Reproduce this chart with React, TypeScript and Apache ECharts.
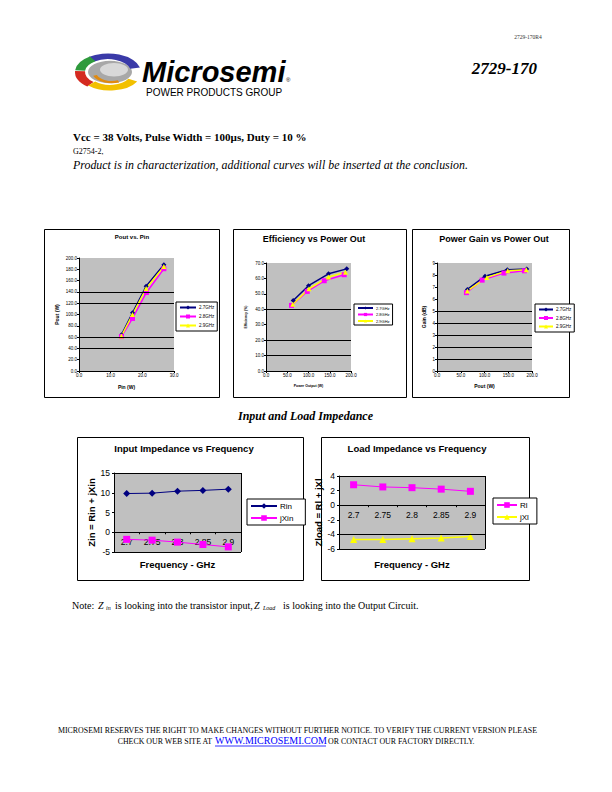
import React, { useEffect, useRef } from "react";
import * as echarts from "echarts";

// ---------- data ----------
const freqNames = ["2.7GHz", "2.8GHz", "2.9GHz"];
// Pout vs Pin  [Pin (W), Pout (W)]
const poutPin27 = [[13.4, 64], [16.9, 103], [21.2, 150], [26.8, 188]];
const poutPin28 = [[13.4, 61], [16.9, 93], [21.3, 139], [26.8, 181]];
const poutPin29 = [[13.4, 62], [16.9, 100], [21.2, 146], [26.8, 185]];
// Efficiency vs Pout [Pout (W), Eff (%)]
const eff27 = [[64, 45.7], [100, 55.3], [147, 63], [190, 66.2]];
const eff28 = [[60, 42.5], [97, 51.6], [137, 58.5], [184, 62.4]];
const eff29 = [[63, 43.3], [101, 53.3], [147, 60.9], [187, 64]];
// Gain vs Pout [Pout (W), Gain (dB)]
const gain27 = [[64, 6.8], [101, 7.9], [148, 8.44], [189, 8.5]];
const gain28 = [[62, 6.53], [95, 7.57], [141, 8.16], [184, 8.35]];
const gain29 = [[64, 6.67], [105, 7.8], [149, 8.35], [188, 8.44]];
// Impedances
const freqCategories = ["2.7", "2.75", "2.8", "2.85", "2.9"];
const rin = [9.8, 9.9, 10.4, 10.6, 10.9];
const jxin = [-1.8, -2.0, -2.5, -3.1, -3.7];
const rl = [2.8, 2.5, 2.4, 2.2, 1.9];
const jxl = [-4.7, -4.7, -4.6, -4.5, -4.3];
// visible horizontal gridlines
const poutGridLines = [40, 60, 120, 140];
const effGridLines = [10, 20, 40];
const gainGridLines = [1, 2, 3, 4, 5];
const zinGridLines = [15, 0, -5];
const zloadGridLines = [4, 0, -4, -6];

const SANS = "'Liberation Sans', Arial, sans-serif";
const SERIF = "'Liberation Serif', 'Times New Roman', serif";
const NAVY = "#000080";
const MAGENTA = "#ff00ff";
const YELLOW = "#ffff00";

function valueAxis(gridIndex: number, min: number, max: number, interval: number, digits: number, fontSize: number, name: string, nameGap: number, nameSize: number, rotateName: boolean) {
  return {
    type: "value",
    gridIndex,
    min,
    max,
    interval,
    name,
    nameLocation: "middle",
    nameGap,
    nameRotate: rotateName ? 90 : 0,
    nameTextStyle: { fontSize: nameSize, fontWeight: "bold", fontFamily: SANS, color: "#000" },
    axisLine: { show: true, onZero: false, lineStyle: { color: "#000", width: 1 } },
    axisTick: { show: true, length: 2, lineStyle: { color: "#000" } },
    axisLabel: { fontSize, fontFamily: SANS, color: "#000", margin: 2, formatter: (v: number) => v.toFixed(digits) },
    splitLine: { show: false },
  };
}

function gridLineSeries(xi: number, values: number[]) {
  return {
    type: "line",
    xAxisIndex: xi,
    yAxisIndex: xi,
    data: [],
    silent: true,
    z: 1,
    markLine: {
      silent: true,
      symbol: ["none", "none"],
      label: { show: false },
      lineStyle: { color: "#000", width: 1, type: "solid" },
      emphasis: { disabled: true },
      data: values.map((v) => ({ yAxis: v })),
    },
  };
}

function lineSeries(name: string, xi: number, data: any[], color: string, symbol: string, size: number, width: number) {
  return {
    type: "line",
    name,
    xAxisIndex: xi,
    yAxisIndex: xi,
    data,
    symbol,
    symbolSize: size,
    z: 3,
    lineStyle: { color, width },
    itemStyle: { color },
  };
}

function smallLegend(left: number, top: number, data: string[], fontSize: number, itemWidth: number, itemHeight: number, itemGap: number, padding: number[]) {
  return {
    left,
    top,
    orient: "vertical",
    data,
    selectedMode: false,
    backgroundColor: "#fff",
    borderColor: "#000",
    borderWidth: 1,
    borderRadius: 0,
    padding,
    itemGap,
    itemWidth,
    itemHeight,
    textStyle: { fontSize, fontFamily: SANS, color: "#000", padding: [0, 0, 0, -2] },
  };
}

function txt(text: string, x: number, y: number, fontSize: number, opts: any = {}) {
  return {
    type: "text",
    x,
    y,
    z: 10,
    style: {
      text,
      fontSize,
      fontFamily: opts.family || SERIF,
      fontWeight: opts.weight || "normal",
      fontStyle: opts.style || "normal",
      fill: opts.fill || "#000",
      textAlign: opts.align || "left",
      textVerticalAlign: "middle",
    },
  };
}

function frame(x: number, y: number, w: number, h: number) {
  return {
    type: "rect",
    z: -10,
    shape: { x: x + 0.5, y: y + 0.5, width: w, height: h },
    style: { fill: "#fff", stroke: "#000", lineWidth: 1 },
  };
}

function buildOption() {
  // category axis is lifted from the plot bottom to the zero line via offset
  const catAxis = (gridIndex: number, splitIdx: number, nameGap: number, offset: number) => ({
    type: "category",
    gridIndex,
    data: freqCategories,
    position: "bottom",
    offset,
    name: "Frequency - GHz",
    nameLocation: "middle",
    nameGap,
    nameTextStyle: { fontSize: 9.5, fontWeight: "bold", fontFamily: SANS, color: "#000" },
    axisLine: { show: true, onZero: false, lineStyle: { color: "#000", width: 1 } },
    axisTick: { show: true, length: 2, lineStyle: { color: "#000" } },
    axisLabel: { fontSize: 8.5, fontFamily: SANS, color: "#000", margin: 5 },
    splitLine: { show: true, interval: (i: number) => i === splitIdx, lineStyle: { color: "#000", width: 1 } },
  });
  const zAxis = (gridIndex: number, min: number, max: number, interval: number, name: string, nameGap: number) => ({
    type: "value",
    gridIndex,
    min,
    max,
    interval,
    name,
    nameLocation: "middle",
    nameGap,
    nameRotate: 90,
    nameTextStyle: { fontSize: 9.5, fontWeight: "bold", fontFamily: SANS, color: "#000" },
    axisLine: { show: true, onZero: false, lineStyle: { color: "#000", width: 1 } },
    axisTick: { show: true, length: 2, lineStyle: { color: "#000" } },
    axisLabel: { fontSize: 8.5, fontFamily: SANS, color: "#000", margin: 4 },
    splitLine: { show: false },
  });

  const gridBase = { show: true, backgroundColor: "#c0c0c0", borderWidth: 0, containLabel: false };

  const logo = {
    type: "group",
    x: 108,
    y: 72,
    scaleY: 0.56,
    z: 5,
    children: [
      { type: "ellipse", shape: { cx: 2, cy: 0, rx: 22, ry: 20 }, style: { fill: "#a8a8a8" } },
      { type: "ellipse", shape: { cx: 6, cy: -4, rx: 14, ry: 12 }, style: { fill: "#d8d8d8" } },
      { type: "arc", shape: { cx: 0, cy: 0, r: 28, startAngle: -2.2, endAngle: -0.25 }, style: { stroke: "#3a3aa8", lineWidth: 10, fill: "none" } },
      { type: "arc", shape: { cx: 0, cy: 0, r: 28, startAngle: -3.05, endAngle: -2.15 }, style: { stroke: "#2e9a3c", lineWidth: 10, fill: "none" } },
      { type: "arc", shape: { cx: 0, cy: 0, r: 28, startAngle: 2.25, endAngle: 3.2 }, style: { stroke: "#d42a20", lineWidth: 10, fill: "none" } },
      { type: "arc", shape: { cx: 2, cy: 2, r: 26, startAngle: 0.5, endAngle: 2.35 }, style: { stroke: "#f2c000", lineWidth: 10, fill: "none" } },
      { type: "arc", shape: { cx: 4, cy: 0, r: 18, startAngle: 1.2, endAngle: 2.8 }, style: { stroke: "#e08a10", lineWidth: 4, fill: "none" } },
    ],
  };

  const graphics: any[] = [
    frame(44, 229, 175, 168),
    frame(233, 229, 173, 168),
    frame(412, 229, 157, 168),
    frame(77, 437, 226, 143),
    frame(321, 437, 208, 143),
    logo,
    txt("2729-170R4", 528, 37, 5.5, { align: "center", fill: "#333" }),
    txt("Microsemi", 142, 72, 29, { family: SANS, weight: "bold", style: "italic" }),
    txt("®", 286, 80, 6, { family: SANS }),
    txt("POWER PRODUCTS GROUP", 146, 92, 10, { family: SANS }),
    txt("2729-170", 537, 68, 17, { weight: "bold", style: "italic", align: "right" }),
    txt("Vcc = 38 Volts, Pulse Width = 100µs, Duty = 10 %", 73, 136.5, 11, { weight: "bold" }),
    txt("G2754-2,", 73, 151, 8),
    txt("Product is in characterization, additional curves will be inserted at the conclusion.", 73, 165, 11.9, { style: "italic" }),
    txt("Input and Load Impedance", 305.5, 416, 12, { weight: "bold", style: "italic", align: "center" }),
    // chart titles
    txt("Pout vs. Pin", 132, 237, 6, { family: SANS, weight: "bold", align: "center" }),
    txt("Efficiency vs Power Out", 314, 239, 9, { family: SANS, weight: "bold", align: "center" }),
    txt("Power Gain vs Power Out", 494, 239, 9, { family: SANS, weight: "bold", align: "center" }),
    txt("Input Impedance vs Frequency", 184, 448, 9.5, { family: SANS, weight: "bold", align: "center" }),
    txt("Load Impedance vs Frequency", 417, 448, 9.5, { family: SANS, weight: "bold", align: "center" }),
    // note
    txt("Note:", 72, 605, 10),
    txt("Z", 98, 605, 10, { style: "italic" }),
    txt("in", 106, 608, 6, { style: "italic" }),
    txt("is looking into the transistor input,", 115, 605, 10),
    txt("Z", 254, 605, 10, { style: "italic" }),
    txt("Load", 263, 608, 6, { style: "italic" }),
    txt("is looking into the Output Circuit.", 283, 605, 10),
    // footer
    txt("MICROSEMI RESERVES THE RIGHT TO MAKE CHANGES WITHOUT FURTHER NOTICE. TO VERIFY THE CURRENT VERSION PLEASE", 297.5, 730, 7.9, { align: "center" }),
    txt("CHECK OUR WEB SITE AT ", 214, 741, 7.9, { align: "right" }),
    txt("WWW.MICROSEMI.COM", 215, 740.5, 10, { fill: "#0000ff" }),
    txt("OR CONTACT OUR FACTORY DIRECTLY.", 328, 741, 7.9),
    { type: "line", z: 10, shape: { x1: 215, y1: 746, x2: 326, y2: 746 }, style: { stroke: "#0000ff", lineWidth: 0.8 } },
  ];

  return {
    animation: false,
    backgroundColor: "#fff",
    grid: [
      { ...gridBase, left: 79, top: 258, width: 95, height: 113 },
      { ...gridBase, left: 266, top: 263, width: 85, height: 108 },
      { ...gridBase, left: 437, top: 263, width: 95, height: 108 },
      { ...gridBase, left: 114, top: 473, width: 127, height: 79 },
      { ...gridBase, left: 339, top: 476, width: 146, height: 73 },
    ],
    xAxis: [
      valueAxis(0, 0, 30, 10, 1, 4.5, "Pin (W)", 13, 5, false),
      valueAxis(1, 0, 200, 50, 1, 4.5, "Power Output (W)", 13, 3.5, false),
      valueAxis(2, 0, 200, 50, 1, 4.5, "Pout (W)", 12.5, 5, false),
      catAxis(3, 4, 27, -19.75),
      catAxis(4, 3, 54, -43.8),
    ],
    yAxis: [
      valueAxis(0, 0, 200, 20, 1, 4.5, "Pout (W)", 20, 5, true),
      valueAxis(1, 0, 70, 10, 1, 4.5, "Efficiency (%)", 18, 3.5, true),
      valueAxis(2, 0, 9, 1, 0, 4.5, "Gain (dB)", 11, 5, true),
      zAxis(3, -5, 15, 5, "Zin = Rin + jXin", 16),
      zAxis(4, -6, 4, 2, "Zload = Rl + jXl", 15),
    ],
    legend: [
      smallLegend(176, 302, freqNames, 4.5, 16, 5, 4, [3, 3, 3, 3]),
      smallLegend(354, 304, freqNames, 4, 15, 4, 2.5, [2, 3, 2, 3]),
      smallLegend(535, 304, freqNames, 4.5, 14, 5, 3.5, [3, 3, 3, 3]),
      smallLegend(247, 499, ["Rin", "jXin"], 8, 26, 7, 4, [3, 12, 3, 3]),
      smallLegend(493, 498, ["Rl", "jXl"], 8, 20, 7, 4, [3, 8, 3, 3]),
    ],
    series: [
      gridLineSeries(0, poutGridLines),
      lineSeries("2.7GHz", 0, poutPin27, NAVY, "diamond", 5, 1.5),
      lineSeries("2.8GHz", 0, poutPin28, MAGENTA, "rect", 5, 1.5),
      lineSeries("2.9GHz", 0, poutPin29, YELLOW, "triangle", 5, 1.5),
      gridLineSeries(1, effGridLines),
      lineSeries("2.7GHz", 1, eff27, NAVY, "diamond", 5, 1.5),
      lineSeries("2.8GHz", 1, eff28, MAGENTA, "rect", 5, 1.5),
      lineSeries("2.9GHz", 1, eff29, YELLOW, "triangle", 5, 1.5),
      gridLineSeries(2, gainGridLines),
      lineSeries("2.7GHz", 2, gain27, NAVY, "diamond", 5, 1.5),
      lineSeries("2.8GHz", 2, gain28, MAGENTA, "rect", 5, 1.5),
      lineSeries("2.9GHz", 2, gain29, YELLOW, "triangle", 5, 1.5),
      gridLineSeries(3, zinGridLines),
      lineSeries("Rin", 3, rin, NAVY, "diamond", 7, 1),
      lineSeries("jXin", 3, jxin, MAGENTA, "rect", 7, 1),
      gridLineSeries(4, zloadGridLines),
      lineSeries("Rl", 4, rl, MAGENTA, "rect", 7, 1),
      lineSeries("jXl", 4, jxl, YELLOW, "triangle", 7, 1.5),
    ],
    graphic: graphics,
  };
}

export default function App() {
  const ref = useRef<HTMLDivElement>(null);
  useEffect(() => {
    if (!ref.current) return;
    const chart = echarts.init(ref.current, undefined, { renderer: "svg" });
    chart.setOption(buildOption() as any);
    return () => chart.dispose();
  }, []);
  return (
    <div
      ref={ref}
      style={{ position: "absolute", left: 0, top: 0, width: 612, height: 792, background: "#fff" }}
    />
  );
}
